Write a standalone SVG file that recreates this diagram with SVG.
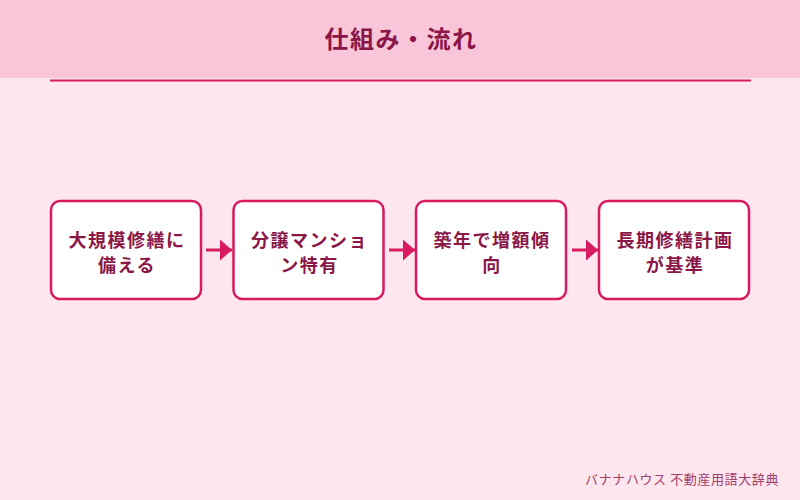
<svg xmlns="http://www.w3.org/2000/svg" width="800" height="500" viewBox="0 0 800 500">
<style>
.bg{fill:#fde6ee}
.hdr{fill:#f8c6d8}
.title{font-family:"Noto Sans CJK JP","Noto Sans",sans-serif;font-size:24px;font-weight:bold;fill:#8a1748;text-anchor:middle;letter-spacing:1.5px}
.box{fill:#ffffff;stroke:#d81b60;stroke-width:2.5}
.lbl{font-family:"Noto Sans CJK JP","Noto Sans",sans-serif;font-size:18px;font-weight:bold;fill:#8a1748;text-anchor:middle;letter-spacing:1.5px}
.conn{stroke:#d81b60;stroke-width:3;fill:none}
.foot{font-family:"Noto Sans CJK JP","Noto Sans",sans-serif;font-size:13px;fill:#a0406a;text-anchor:end;letter-spacing:0.6px}
</style>
<defs>
<marker id="ah" markerWidth="12" markerHeight="21" refX="12" refY="10.5" orient="auto" markerUnits="userSpaceOnUse">
<path d="M0,0 L12,10.5 L0,21 Z" fill="#d81b60"/>
</marker>
</defs>
<rect class="bg" x="0" y="0" width="800" height="500"/>
<rect class="hdr" x="0" y="0" width="800" height="78"/>
<text class="title" x="401" y="48">仕組み・流れ</text>
<line x1="50" y1="80.5" x2="751" y2="80.5" stroke="#d81b60" stroke-width="2"/>
<g id="connectors">
<line class="conn" x1="206" y1="250" x2="232" y2="250" marker-end="url(#ah)"/>
<line class="conn" x1="389" y1="250" x2="415" y2="250" marker-end="url(#ah)"/>
<line class="conn" x1="572" y1="250" x2="598" y2="250" marker-end="url(#ah)"/>
</g>
<g id="node1">
<rect class="box" x="51" y="201" width="150" height="98" rx="9"/>
<text class="lbl" x="127" y="247">大規模修繕に</text>
<text class="lbl" x="127" y="272">備える</text>
</g>
<g id="node2">
<rect class="box" x="233.5" y="201" width="150" height="98" rx="9"/>
<text class="lbl" x="309.5" y="247">分譲マンショ</text>
<text class="lbl" x="309.5" y="272">ン特有</text>
</g>
<g id="node3">
<rect class="box" x="416" y="201" width="150" height="98" rx="9"/>
<text class="lbl" x="492" y="247">築年で増額傾</text>
<text class="lbl" x="492" y="272">向</text>
</g>
<g id="node4">
<rect class="box" x="599" y="201" width="150" height="98" rx="9"/>
<text class="lbl" x="675" y="247">長期修繕計画</text>
<text class="lbl" x="675" y="272">が基準</text>
</g>
<text class="foot" x="779" y="484">バナナハウス 不動産用語大辞典</text>
</svg>
